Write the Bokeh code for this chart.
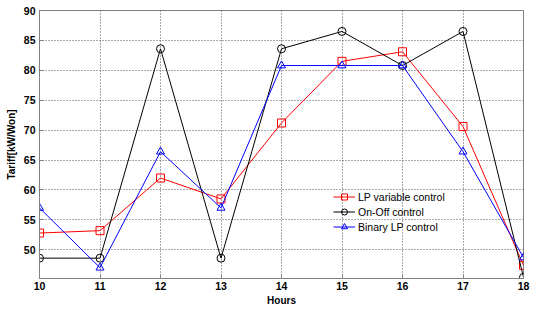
from bokeh.plotting import figure
from bokeh.models import Range1d, FixedTicker, Legend, LegendItem
from bokeh.embed import file_html
from bokeh.resources import INLINE

hours = [10, 11, 12, 13, 14, 15, 16, 17, 18]
lp_variable = [52.8, 53.2, 62.0, 58.5, 71.2, 81.5, 83.1, 70.6, 47.4]
on_off = [48.6, 48.6, 83.6, 48.6, 83.6, 86.5, 80.8, 86.5, 45.4]
binary_lp = [57.0, 47.0, 66.4, 57.0, 80.8, 80.8, 80.8, 66.4, 48.7]
x_ticks = [10, 11, 12, 13, 14, 15, 16, 17, 18]
y_ticks = [50, 55, 60, 65, 70, 75, 80, 85, 90]

FONT = "Liberation Sans"

p = figure(width=533, height=308, output_backend="svg", toolbar_location=None,
           x_range=Range1d(10, 18), y_range=Range1d(45.2, 90),
           min_border_left=39, min_border_right=10, min_border_top=10, min_border_bottom=28)
p.background_fill_color = "white"
p.border_fill_color = "white"
p.outline_line_color = "#808080"
p.outline_line_width = 1

for ax in (p.xaxis[0], p.yaxis[0]):
    ax.axis_line_color = "#808080"
    ax.major_tick_line_color = "#808080"
    ax.major_tick_in = 4
    ax.major_tick_out = 0
    ax.minor_tick_line_color = None
    ax.major_label_text_font = FONT
    ax.major_label_text_font_style = "bold"
    ax.major_label_text_font_size = "10.5px"
    ax.major_label_text_color = "black"
    ax.axis_label_text_font = FONT
    ax.axis_label_text_font_style = "bold"
    ax.axis_label_text_font_size = "10px"
    ax.axis_label_text_color = "black"

p.xaxis.ticker = FixedTicker(ticks=x_ticks)
p.yaxis.ticker = FixedTicker(ticks=y_ticks)
p.xaxis.axis_label = "Hours"
p.yaxis.axis_label = "Tariff[kW/Won]"
p.xaxis.major_label_standoff = 3
p.xaxis.axis_label_standoff = 2
p.yaxis.major_label_standoff = 4
p.yaxis.axis_label_standoff = 4

p.xgrid.ticker = FixedTicker(ticks=x_ticks)
p.ygrid.ticker = FixedTicker(ticks=y_ticks)
for g in (p.xgrid[0], p.ygrid[0]):
    g.grid_line_color = "#555555"
    g.grid_line_dash = "1 2"
    g.grid_line_width = 1

red, black, blue = "#ff0000", "#000000", "#0000ff"

l1 = p.line(hours, lp_variable, line_color=red, line_width=1)
m1 = p.scatter(hours, lp_variable, marker="square", size=8, line_color=red, fill_color=None)
l2 = p.line(hours, on_off, line_color=black, line_width=1)
m2 = p.scatter(hours, on_off, marker="circle", size=8, line_color=black, fill_color=None)
l3 = p.line(hours, binary_lp, line_color=blue, line_width=1)
m3 = p.scatter(hours, binary_lp, marker="triangle", size=8, line_color=blue, fill_color=None)

legend = Legend(items=[
    LegendItem(label="LP variable control", renderers=[l1, m1]),
    LegendItem(label="On-Off control", renderers=[l2, m2]),
    LegendItem(label="Binary LP control", renderers=[l3, m3]),
], location=(294, 44))
legend.border_line_color = None
legend.background_fill_alpha = 0
legend.padding = 0
legend.margin = 0
legend.spacing = 0
legend.glyph_width = 22
legend.glyph_height = 15
legend.label_height = 15
legend.label_standoff = 3
legend.label_text_font = FONT
legend.label_text_font_size = "10.5px"
legend.label_text_color = "black"
p.add_layout(legend)

open("out.html", "w").write(file_html(p, INLINE))
